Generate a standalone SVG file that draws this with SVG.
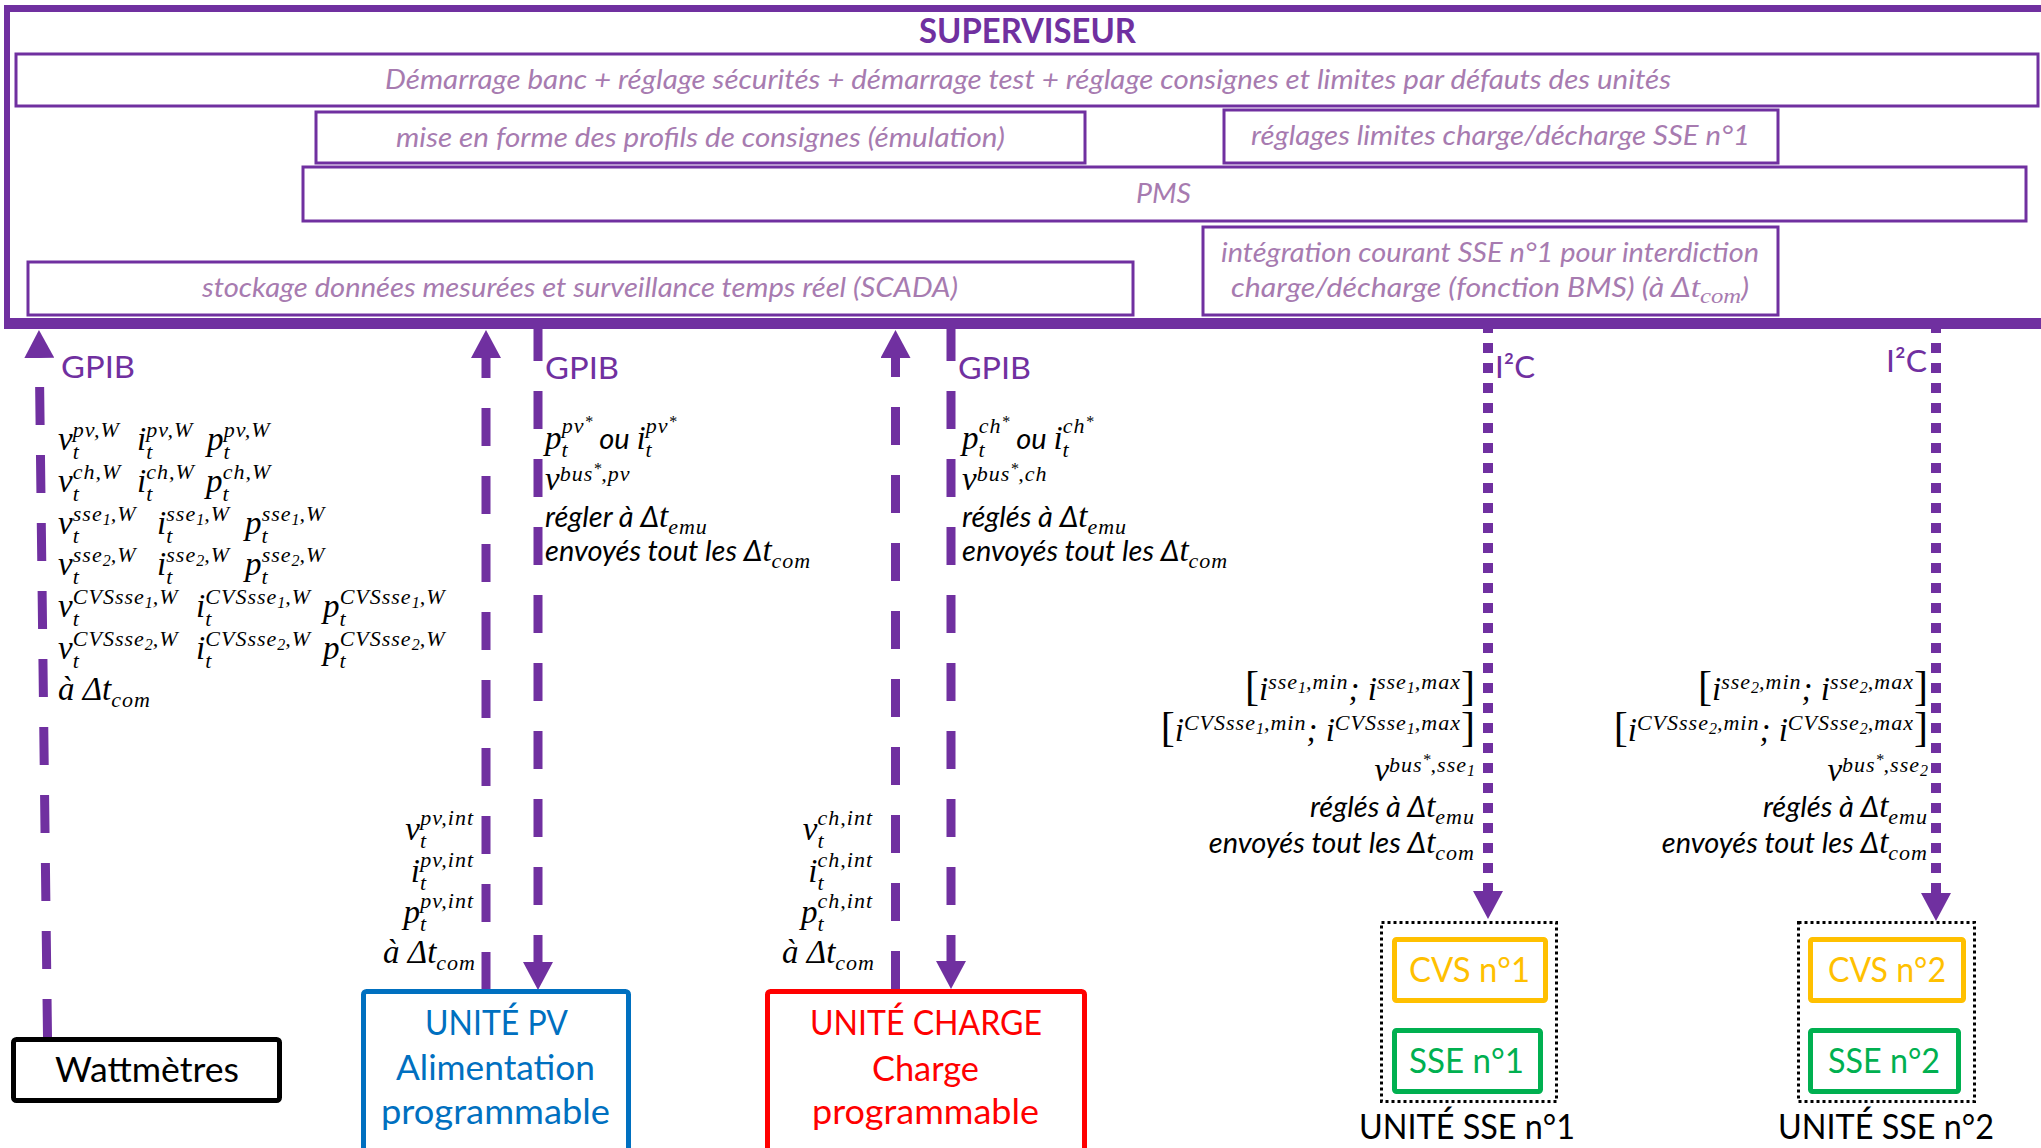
<svg xmlns="http://www.w3.org/2000/svg" width="2041" height="1148" viewBox="0 0 2041 1148">
<defs>
<style>
.sv{font-family:Lato,"Liberation Sans",sans-serif;font-style:italic;font-size:27px;fill:#A77BB0}
.box{fill:#fff;stroke:#7030A0;stroke-width:3}
.lbl{font-family:Lato,"Liberation Sans",sans-serif;font-size:31px;fill:#7030A0}
.m{font-family:"Liberation Serif",serif;font-style:italic;font-size:33px;fill:#000}
.it{font-family:Lato,"Liberation Sans",sans-serif;font-style:italic;font-size:29px;fill:#000}
.s{font-size:22px;letter-spacing:1px}
.ss{font-size:16px;letter-spacing:0}
.br{font-style:normal;font-size:42px}
.dash{fill:none;stroke:#7030A0;stroke-width:9;stroke-dasharray:38 30;marker-end:url(#ah)}
.dot{fill:none;stroke:#7030A0;stroke-width:10;stroke-dasharray:10 10;marker-end:url(#ah)}
.node{font-family:Lato,"Liberation Sans",sans-serif;font-size:35px}
.fr{fill:none;stroke:#7030A0}
</style>
<marker id="ah" markerUnits="userSpaceOnUse" viewBox="0 0 28 30" markerWidth="28" markerHeight="30" refX="8" refY="15" orient="auto"><path d="M0,0 L28,15 L0,30 Z" fill="#7030A0"/></marker>
</defs>
<rect width="2041" height="1148" fill="#fff"/>

<g id="superviseur">
<path class="fr" d="M4,8.5 H2041" stroke-width="7"/>
<path class="fr" d="M7,5 V329" stroke-width="6"/>
<path class="fr" d="M4,323.5 H2041" stroke-width="11"/>
<text x="919" y="43" font-family="Lato,'Liberation Sans',sans-serif" font-weight="700" font-size="34" fill="#7030A0" textLength="217" lengthAdjust="spacingAndGlyphs">SUPERVISEUR</text>
</g>

<g id="demarrage">
<rect class="box" x="16" y="54" width="2022" height="52"/>
<text class="sv" x="385" y="89" textLength="1286" lengthAdjust="spacingAndGlyphs">Démarrage banc + réglage sécurités + démarrage test + réglage consignes et limites par défauts des unités</text>
</g>
<g id="mise-en-forme">
<rect class="box" x="316" y="112" width="769" height="51"/>
<text class="sv" x="396" y="147" textLength="609" lengthAdjust="spacingAndGlyphs">mise en forme des profils de consignes (émulation)</text>
</g>
<g id="reglages-limites">
<rect class="box" x="1224" y="110" width="554" height="53"/>
<text class="sv" x="1251" y="145" textLength="499" lengthAdjust="spacingAndGlyphs">réglages limites charge/décharge SSE n°1</text>
</g>
<g id="pms">
<rect class="box" x="303" y="167" width="1723" height="54"/>
<text class="sv" x="1136" y="203" textLength="55" lengthAdjust="spacingAndGlyphs">PMS</text>
</g>
<g id="stockage">
<rect class="box" x="28" y="262" width="1105" height="53"/>
<text class="sv" x="202" y="297" textLength="756" lengthAdjust="spacingAndGlyphs">stockage données mesurées et surveillance temps réel (SCADA)</text>
</g>
<g id="integration">
<rect class="box" x="1203" y="227" width="575" height="88"/>
<text class="sv" x="1221" y="262" textLength="538" lengthAdjust="spacingAndGlyphs">intégration courant SSE n°1 pour interdiction</text>
<text class="sv" x="1231" y="297" textLength="518" lengthAdjust="spacingAndGlyphs">charge/décharge (fonction BMS) (à Δ<tspan font-family="'Liberation Serif',serif" font-size="30">t</tspan><tspan font-family="'Liberation Serif',serif" font-size="22" dy="6">com</tspan><tspan dy="-6">)</tspan></text>
</g>

<g id="connectors">
<path class="dash" d="M47.5,1037 L39.2,350"/>
<path class="dash" d="M486,990 V350"/>
<path class="dash" d="M538,323 V970"/>
<path class="dash" d="M895.5,989 V350"/>
<path class="dash" d="M951,323 V969"/>
<path class="dot" d="M1488,323 V899"/>
<path class="dot" d="M1936,323 V901"/>
</g>

<g id="labels-gpib">
<text class="lbl" x="61" y="378" textLength="74" lengthAdjust="spacingAndGlyphs">GPIB</text>
<text class="lbl" x="545" y="379" textLength="74" lengthAdjust="spacingAndGlyphs">GPIB</text>
<text class="lbl" x="958" y="379" textLength="73" lengthAdjust="spacingAndGlyphs">GPIB</text>
<text class="lbl" x="1495" y="378" font-size="36" textLength="40" lengthAdjust="spacingAndGlyphs">I²C</text>
<text class="lbl" x="1886" y="372" font-size="36" textLength="41" lengthAdjust="spacingAndGlyphs">I²C</text>
</g>

<g id="mesures-wattmetres">
<text class="m" x="58" y="450">v<tspan class="s" dy="9">t</tspan><tspan class="s" dx="-7" dy="-22">pv,W</tspan></text>
<text class="m" x="137" y="450">i<tspan class="s" dy="9">t</tspan><tspan class="s" dx="-7" dy="-22">pv,W</tspan></text>
<text class="m" x="207" y="450">p<tspan class="s" dy="9">t</tspan><tspan class="s" dx="-7" dy="-22">pv,W</tspan></text>
<text class="m" x="58" y="492">v<tspan class="s" dy="9">t</tspan><tspan class="s" dx="-7" dy="-22">ch,W</tspan></text>
<text class="m" x="137" y="492">i<tspan class="s" dy="9">t</tspan><tspan class="s" dx="-7" dy="-22">ch,W</tspan></text>
<text class="m" x="206" y="492">p<tspan class="s" dy="9">t</tspan><tspan class="s" dx="-7" dy="-22">ch,W</tspan></text>
<text class="m" x="58" y="534">v<tspan class="s" dy="9">t</tspan><tspan class="s" dx="-7" dy="-22">sse<tspan class="ss" dy="4">1</tspan><tspan dy="-4">,W</tspan></tspan></text>
<text class="m" x="157" y="534">i<tspan class="s" dy="9">t</tspan><tspan class="s" dx="-7" dy="-22">sse<tspan class="ss" dy="4">1</tspan><tspan dy="-4">,W</tspan></tspan></text>
<text class="m" x="245" y="534">p<tspan class="s" dy="9">t</tspan><tspan class="s" dx="-7" dy="-22">sse<tspan class="ss" dy="4">1</tspan><tspan dy="-4">,W</tspan></tspan></text>
<text class="m" x="58" y="575">v<tspan class="s" dy="9">t</tspan><tspan class="s" dx="-7" dy="-22">sse<tspan class="ss" dy="4">2</tspan><tspan dy="-4">,W</tspan></tspan></text>
<text class="m" x="157" y="575">i<tspan class="s" dy="9">t</tspan><tspan class="s" dx="-7" dy="-22">sse<tspan class="ss" dy="4">2</tspan><tspan dy="-4">,W</tspan></tspan></text>
<text class="m" x="245" y="575">p<tspan class="s" dy="9">t</tspan><tspan class="s" dx="-7" dy="-22">sse<tspan class="ss" dy="4">2</tspan><tspan dy="-4">,W</tspan></tspan></text>
<text class="m" x="58" y="617">v<tspan class="s" dy="9">t</tspan><tspan class="s" dx="-7" dy="-22">CVSsse<tspan class="ss" dy="4">1</tspan><tspan dy="-4">,W</tspan></tspan></text>
<text class="m" x="196" y="617">i<tspan class="s" dy="9">t</tspan><tspan class="s" dx="-7" dy="-22">CVSsse<tspan class="ss" dy="4">1</tspan><tspan dy="-4">,W</tspan></tspan></text>
<text class="m" x="323" y="617">p<tspan class="s" dy="9">t</tspan><tspan class="s" dx="-7" dy="-22">CVSsse<tspan class="ss" dy="4">1</tspan><tspan dy="-4">,W</tspan></tspan></text>
<text class="m" x="58" y="659">v<tspan class="s" dy="9">t</tspan><tspan class="s" dx="-7" dy="-22">CVSsse<tspan class="ss" dy="4">2</tspan><tspan dy="-4">,W</tspan></tspan></text>
<text class="m" x="196" y="659">i<tspan class="s" dy="9">t</tspan><tspan class="s" dx="-7" dy="-22">CVSsse<tspan class="ss" dy="4">2</tspan><tspan dy="-4">,W</tspan></tspan></text>
<text class="m" x="323" y="659">p<tspan class="s" dy="9">t</tspan><tspan class="s" dx="-7" dy="-22">CVSsse<tspan class="ss" dy="4">2</tspan><tspan dy="-4">,W</tspan></tspan></text>
<text class="m" x="58" y="700">à Δt<tspan class="s" dy="7">com</tspan></text>
</g>

<g id="consignes-pv">
<text class="m" x="545" y="449">p<tspan class="s" dy="8">t</tspan><tspan class="s" dx="-7" dy="-24">pv<tspan class="ss" dy="-6">*</tspan></tspan><tspan class="it" dy="22"> ou </tspan>i<tspan class="s" dy="8">t</tspan><tspan class="s" dx="-7" dy="-24">pv<tspan class="ss" dy="-6">*</tspan></tspan></text>
<text class="m" x="545" y="490">v<tspan class="s" dy="-9">bus<tspan class="ss" dy="-7">*</tspan><tspan dy="7">,pv</tspan></tspan></text>
<text class="it" x="545" y="527">régler à Δ<tspan class="m">t</tspan><tspan class="m s" dy="7">emu</tspan></text>
<text class="it" x="545" y="561">envoyés tout les Δ<tspan class="m">t</tspan><tspan class="m s" dy="7">com</tspan></text>
</g>

<g id="consignes-charge">
<text class="m" x="962" y="449">p<tspan class="s" dy="8">t</tspan><tspan class="s" dx="-7" dy="-24">ch<tspan class="ss" dy="-6">*</tspan></tspan><tspan class="it" dy="22"> ou </tspan>i<tspan class="s" dy="8">t</tspan><tspan class="s" dx="-7" dy="-24">ch<tspan class="ss" dy="-6">*</tspan></tspan></text>
<text class="m" x="962" y="490">v<tspan class="s" dy="-9">bus<tspan class="ss" dy="-7">*</tspan><tspan dy="7">,ch</tspan></tspan></text>
<text class="it" x="962" y="527">réglés à Δ<tspan class="m">t</tspan><tspan class="m s" dy="7">emu</tspan></text>
<text class="it" x="962" y="561">envoyés tout les Δ<tspan class="m">t</tspan><tspan class="m s" dy="7">com</tspan></text>
</g>

<g id="mesures-pv" text-anchor="end">
<text class="m" x="474" y="840">v<tspan class="s" dy="8">t</tspan><tspan class="s" dx="-7" dy="-23">pv,int</tspan></text>
<text class="m" x="474" y="882">i<tspan class="s" dy="8">t</tspan><tspan class="s" dx="-7" dy="-23">pv,int</tspan></text>
<text class="m" x="474" y="923">p<tspan class="s" dy="8">t</tspan><tspan class="s" dx="-7" dy="-23">pv,int</tspan></text>
<text class="m" x="476" y="963">à Δt<tspan class="s" dy="7">com</tspan></text>
</g>

<g id="mesures-charge" text-anchor="end">
<text class="m" x="873" y="840">v<tspan class="s" dy="8">t</tspan><tspan class="s" dx="-7" dy="-23">ch,int</tspan></text>
<text class="m" x="873" y="882">i<tspan class="s" dy="8">t</tspan><tspan class="s" dx="-7" dy="-23">ch,int</tspan></text>
<text class="m" x="873" y="923">p<tspan class="s" dy="8">t</tspan><tspan class="s" dx="-7" dy="-23">ch,int</tspan></text>
<text class="m" x="875" y="963">à Δt<tspan class="s" dy="7">com</tspan></text>
</g>

<g id="consignes-sse1" text-anchor="end">
<text class="m" x="1475" y="700"><tspan class="br">[</tspan>i<tspan class="s" dy="-11">sse<tspan class="ss" dy="4">1</tspan><tspan dy="-4">,min</tspan></tspan><tspan dy="11">; i</tspan><tspan class="s" dy="-11">sse<tspan class="ss" dy="4">1</tspan><tspan dy="-4">,max</tspan></tspan><tspan class="br" dy="11">]</tspan></text>
<text class="m" x="1475" y="741"><tspan class="br">[</tspan>i<tspan class="s" dy="-11">CVSsse<tspan class="ss" dy="4">1</tspan><tspan dy="-4">,min</tspan></tspan><tspan dy="11">; i</tspan><tspan class="s" dy="-11">CVSsse<tspan class="ss" dy="4">1</tspan><tspan dy="-4">,max</tspan></tspan><tspan class="br" dy="11">]</tspan></text>
<text class="m" x="1475" y="781">v<tspan class="s" dy="-9">bus<tspan class="ss" dy="-7">*</tspan><tspan dy="7">,sse</tspan><tspan class="ss" dy="4">1</tspan></tspan></text>
<text class="it" x="1475" y="817">réglés à Δ<tspan class="m">t</tspan><tspan class="m s" dy="7">emu</tspan></text>
<text class="it" x="1475" y="853">envoyés tout les Δ<tspan class="m">t</tspan><tspan class="m s" dy="7">com</tspan></text>
</g>

<g id="consignes-sse2" text-anchor="end">
<text class="m" x="1928" y="700"><tspan class="br">[</tspan>i<tspan class="s" dy="-11">sse<tspan class="ss" dy="4">2</tspan><tspan dy="-4">,min</tspan></tspan><tspan dy="11">; i</tspan><tspan class="s" dy="-11">sse<tspan class="ss" dy="4">2</tspan><tspan dy="-4">,max</tspan></tspan><tspan class="br" dy="11">]</tspan></text>
<text class="m" x="1928" y="741"><tspan class="br">[</tspan>i<tspan class="s" dy="-11">CVSsse<tspan class="ss" dy="4">2</tspan><tspan dy="-4">,min</tspan></tspan><tspan dy="11">; i</tspan><tspan class="s" dy="-11">CVSsse<tspan class="ss" dy="4">2</tspan><tspan dy="-4">,max</tspan></tspan><tspan class="br" dy="11">]</tspan></text>
<text class="m" x="1928" y="781">v<tspan class="s" dy="-9">bus<tspan class="ss" dy="-7">*</tspan><tspan dy="7">,sse</tspan><tspan class="ss" dy="4">2</tspan></tspan></text>
<text class="it" x="1928" y="817">réglés à Δ<tspan class="m">t</tspan><tspan class="m s" dy="7">emu</tspan></text>
<text class="it" x="1928" y="853">envoyés tout les Δ<tspan class="m">t</tspan><tspan class="m s" dy="7">com</tspan></text>
</g>

<g id="wattmetres">
<rect x="13.5" y="1039.5" width="266" height="61" rx="3" fill="#fff" stroke="#000" stroke-width="5"/>
<text class="node" x="55" y="1082" fill="#000" textLength="184" lengthAdjust="spacingAndGlyphs">Wattmètres</text>
</g>

<g id="unite-pv">
<rect x="363.5" y="991.5" width="265" height="175" rx="3" fill="#fff" stroke="#0070C0" stroke-width="5"/>
<text class="node" x="425" y="1035" fill="#0070C0" textLength="143" lengthAdjust="spacingAndGlyphs">UNITÉ PV</text>
<text class="node" x="396" y="1080" fill="#0070C0" textLength="199" lengthAdjust="spacingAndGlyphs">Alimentation</text>
<text class="node" x="381" y="1124" fill="#0070C0" textLength="229" lengthAdjust="spacingAndGlyphs">programmable</text>
</g>

<g id="unite-charge">
<rect x="767.5" y="991.5" width="317" height="175" rx="3" fill="#fff" stroke="#FF0000" stroke-width="5"/>
<text class="node" x="810" y="1035" fill="#FF0000" textLength="232" lengthAdjust="spacingAndGlyphs">UNITÉ CHARGE</text>
<text class="node" x="872" y="1081" fill="#FF0000" textLength="107" lengthAdjust="spacingAndGlyphs">Charge</text>
<text class="node" x="812" y="1124" fill="#FF0000" textLength="227" lengthAdjust="spacingAndGlyphs">programmable</text>
</g>

<g id="unite-sse1">
<rect x="1381.5" y="922.5" width="175" height="179" fill="none" stroke="#000" stroke-width="3" stroke-dasharray="3 3"/>
<g id="cvs1">
<rect x="1394.5" y="939.5" width="151" height="61" rx="2" fill="#fff" stroke="#FFC000" stroke-width="5"/>
<text class="node" x="1409" y="982" fill="#FFC000" textLength="121" lengthAdjust="spacingAndGlyphs">CVS n°1</text>
</g>
<g id="sse1">
<rect x="1394.5" y="1030.5" width="146" height="61" rx="2" fill="#fff" stroke="#00B050" stroke-width="5"/>
<text class="node" x="1409" y="1073" fill="#00B050" textLength="115" lengthAdjust="spacingAndGlyphs">SSE n°1</text>
</g>
<text class="node" x="1359" y="1139" fill="#000" textLength="216" lengthAdjust="spacingAndGlyphs">UNITÉ SSE n°1</text>
</g>

<g id="unite-sse2">
<rect x="1798.5" y="922.5" width="176" height="179" fill="none" stroke="#000" stroke-width="3" stroke-dasharray="3 3"/>
<g id="cvs2">
<rect x="1810.5" y="939.5" width="153" height="61" rx="2" fill="#fff" stroke="#FFC000" stroke-width="5"/>
<text class="node" x="1828" y="982" fill="#FFC000" textLength="118" lengthAdjust="spacingAndGlyphs">CVS n°2</text>
</g>
<g id="sse2">
<rect x="1810.5" y="1030.5" width="148" height="61" rx="2" fill="#fff" stroke="#00B050" stroke-width="5"/>
<text class="node" x="1828" y="1073" fill="#00B050" textLength="112" lengthAdjust="spacingAndGlyphs">SSE n°2</text>
</g>
<text class="node" x="1778" y="1139" fill="#000" textLength="216" lengthAdjust="spacingAndGlyphs">UNITÉ SSE n°2</text>
</g>
</svg>
